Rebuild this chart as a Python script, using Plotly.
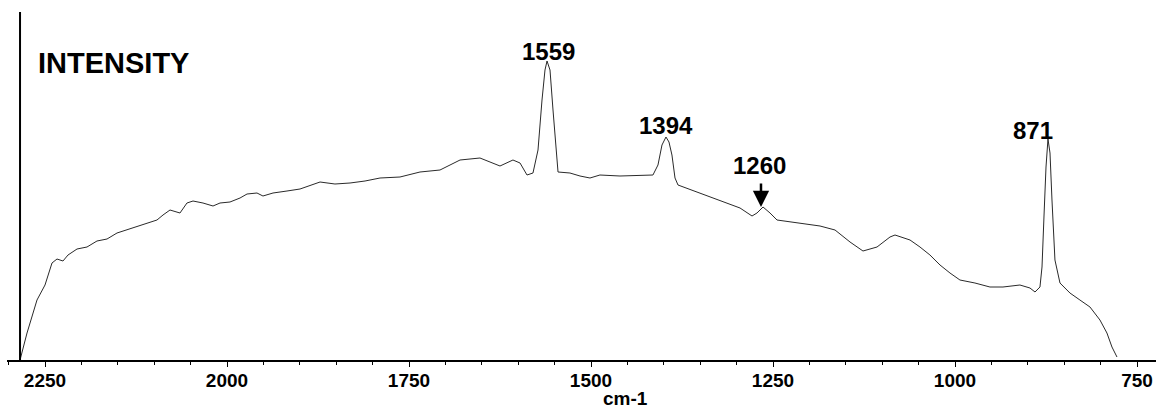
import plotly.graph_objects as go

# Raman spectrum (wavenumber in cm-1, intensity in arbitrary units)
wavenumber = [2284.3, 2274.7, 2261.0, 2250.0, 2240.4, 2233.5, 2225.3, 2218.4, 2206.0, 2192.3,
              2178.6, 2164.8, 2151.1, 2129.1, 2109.9, 2096.2, 2087.9, 2078.3, 2064.6, 2055.0,
              2046.7, 2033.0, 2019.2, 2009.6, 1995.9, 1982.1, 1972.5, 1958.8, 1950.6, 1936.8,
              1917.6, 1899.7, 1872.2, 1851.7, 1831.0, 1810.4, 1789.8, 1762.4, 1734.9, 1707.4,
              1679.9, 1652.5, 1625.0, 1607.2, 1597.5, 1587.9, 1579.7, 1572.8, 1567.3, 1563.2,
              1560.4, 1556.3, 1552.2, 1548.1, 1545.3, 1528.9, 1515.1, 1501.4, 1487.7, 1460.2,
              1432.7, 1414.9, 1408.0, 1402.5, 1397.0, 1392.9, 1388.8, 1384.6, 1380.5, 1350.3,
              1322.8, 1295.3, 1278.8, 1272.0, 1263.7, 1254.1, 1244.5, 1212.9, 1185.4, 1164.8,
              1144.2, 1126.4, 1107.1, 1089.3, 1082.4, 1061.8, 1048.1, 1034.4, 1020.6, 1006.9,
              993.2, 972.6, 952.0, 934.1, 910.8, 897.0, 890.1, 883.3, 880.5, 877.8,
              875.0, 872.3, 869.5, 866.8, 862.7, 855.8, 842.1, 828.4, 814.6, 800.9,
              791.3, 784.4, 777.5]
intensity = [0, 27, 60, 75, 97, 101, 99, 105, 111, 113,
             119, 121, 127, 132, 137, 140, 145, 150, 147, 157,
             159, 157, 154, 157, 158, 162, 166, 167, 164, 167,
             169, 171, 178, 176, 177, 179, 182, 183, 188, 190,
             200, 202, 194, 200, 197, 185, 187, 210, 260, 290,
             299, 290, 250, 210, 188, 187, 184, 182, 185, 184,
             185, 185, 195, 215, 223, 218, 205, 182, 175, 167,
             160, 152, 144, 147, 153, 147, 140, 137, 134, 130,
             118, 109, 113, 123, 125, 120, 113, 105, 95, 87,
             80, 77, 73, 73, 75, 72, 68, 73, 93, 143,
             193, 221, 207, 160, 100, 77, 67, 60, 53, 40,
             27, 13, 3]

tick_values = [2250, 2000, 1750, 1500, 1250, 1000, 750]
tick_labels = ["2250", "2000", "1750", "1500", "1250", "1000", "750"]

peak_labels = ["1559", "1394", "871"]
peak_label_x = [1557.7, 1396.3, 893.5]
peak_label_y = [308.5, 234.5, 229.5]

arrow_label = "1260"
arrow_label_x = 1269.2
arrow_label_y = 195
arrow_tip_x = 1266.5
arrow_tip_y = 153

FONT = "Liberation Sans, Arial, sans-serif"

fig = go.Figure()
fig.add_trace(go.Scatter(x=wavenumber, y=intensity, mode="lines",
                         line=dict(color="#2a2a2a", width=1), hoverinfo="skip",
                         showlegend=False))

annotations = []
for t, x, y in zip(peak_labels, peak_label_x, peak_label_y):
    annotations.append(dict(x=x, y=y, xref="x", yref="y", text=t, showarrow=False,
                            font=dict(family=FONT, size=24, color="black", weight="bold"),
                            xanchor="center", yanchor="middle"))
annotations.append(dict(x=arrow_label_x, y=arrow_label_y, xref="x", yref="y", text=arrow_label,
                        showarrow=False,
                        font=dict(family=FONT, size=24, color="black", weight="bold"),
                        xanchor="center", yanchor="middle"))
annotations.append(dict(x=arrow_tip_x, y=arrow_tip_y, xref="x", yref="y", text="",
                        showarrow=True, ax=0, ay=-25, arrowhead=2, arrowsize=1.3,
                        arrowwidth=2.5, arrowcolor="black", standoff=0))
annotations.append(dict(x=0.0252, y=0.853, xref="paper", yref="paper", text="INTENSITY",
                        showarrow=False, xanchor="left", yanchor="middle",
                        font=dict(family=FONT, size=29, color="black", weight="bold")))
annotations.append(dict(x=0.5387, y=-0.112, xref="paper", yref="paper", text="cm-1",
                        showarrow=False, xanchor="center", yanchor="middle",
                        font=dict(family=FONT, size=19, color="black", weight="bold")))

fig.update_layout(
    width=1156, height=410,
    margin=dict(l=7, r=0, t=12, b=50),
    paper_bgcolor="white", plot_bgcolor="white",
    annotations=annotations,
    shapes=[dict(type="line", xref="x", yref="paper", x0=2284.3, x1=2284.3, y0=0, y1=1,
                 line=dict(color="black", width=2))],
    xaxis=dict(range=[2302.2, 723.9], showgrid=False, zeroline=False,
               showline=True, linecolor="black", linewidth=1.5,
               ticks="outside", ticklen=5, tickcolor="black", tickwidth=1,
               tickvals=tick_values, ticktext=tick_labels, ticklabelstandoff=-3,
               tickfont=dict(family=FONT, size=19, color="black", weight="bold"),
               minor=dict(dtick=50, tick0=750, ticks="outside", ticklen=3,
                          tickcolor="black", showgrid=False)),
    yaxis=dict(range=[0, 348], visible=False, showgrid=False, zeroline=False),
)

fig.write_html("out.html", config={"displayModeBar": False},
               post_script="document.body.style.margin='0';")
